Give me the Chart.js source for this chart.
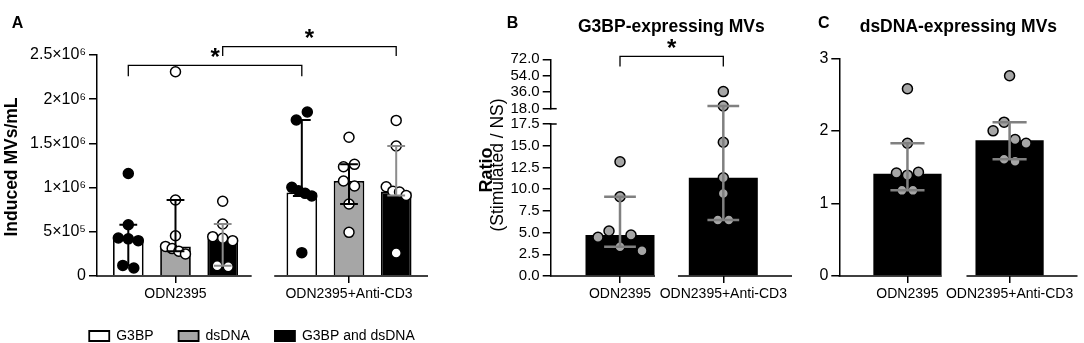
<!DOCTYPE html>
<html>
<head>
<meta charset="utf-8">
<script src="https://cdn.jsdelivr.net/npm/chart.js@4.4.1/dist/chart.umd.min.js"></script>
<style>
  html, body { margin:0; padding:0; background:#ffffff; width:1084px; height:343px; overflow:hidden; }
  body { position:relative; }
  canvas { position:absolute; top:0; }
</style>
</head>
<body>
<canvas id="chartA" style="left:0px;width:504px;height:360px" width="504" height="360"></canvas>
<canvas id="chartB" style="left:460px;width:340px;height:343px" width="340" height="343"></canvas>
<canvas id="chartC" style="left:790px;width:294px;height:343px" width="294" height="343"></canvas>
<script>
// ================= DATA =================
const categories = ['ODN2395', 'ODN2395+Anti-CD3'];
const seriesNamesA = ['G3BP', 'dsDNA', 'G3BP and dsDNA'];

// Panel A: Induced MVs/mL  (bar = median, whiskers = interquartile range)
const medianA_G3BP  = [420000, 945000];
const medianA_dsDNA = [335000, 1075000];
const medianA_both  = [420000, 955000];
const iqrLowA_G3BP   = [120000, 905000];
const iqrHighA_G3BP  = [580000, 1765000];
const iqrLowA_dsDNA  = [280000, 814000];
const iqrHighA_dsDNA = [860000, 1263000];
const iqrLowA_both   = [117000, 910000];
const iqrHighA_both  = [588000, 1470000];
const pointsA_G3BP = [
  [1160000, 580000, 430000, 420000, 400000, 120000, 90000],
  [1765000, 1855000, 1003000, 965000, 935000, 905000, 264000]
];
const pointsA_dsDNA = [
  [2310000, 860000, 455000, 335000, 310000, 280000, 250000],
  [1570000, 1236000, 1263000, 1075000, 1018000, 814000, 494000]
];
const pointsA_both = [
  [845000, 588000, 445000, 426000, 400000, 117000, 105000],
  [1760000, 1470000, 1010000, 960000, 950000, 910000, 260000]
];
const yTicksA = [0, 500000, 1000000, 1500000, 2000000, 2500000];
const yTickLabelsA = ['0', '5×10⁵', '1×10⁶', '1.5×10⁶', '2×10⁶', '2.5×10⁶'];
const axisBreakA = [0.439, 0.569];
const sigA = [
  { from: [0, 0], to: [1, 0], top: 2383000, end: 2260000, label: '*' },
  { from: [0, 2], to: [1, 2], top: 2594000, end: 2489000, label: '*' }
];

// Panel B: G3BP-expressing MVs, ratio (stimulated / NS)
const titleB = 'G3BP-expressing MVs';
const medianB  = [4.72, 11.3];
const iqrLowB  = [3.37, 6.45];
const iqrHighB = [9.13, 21.0];
const pointsB = [
  [13.15, 9.13, 4.45, 5.18, 3.37, 4.72, 2.91],
  [36.7, 21.0, 15.4, 11.3, 9.5, 6.45, 6.45]
];
const yTicksBLow = [0, 2.5, 5, 7.5, 10, 12.5, 15, 17.5];
const yTickLabelsBLow = ['0.0', '2.5', '5.0', '7.5', '10.0', '12.5', '15.0', '17.5'];
const yTicksBHigh = [18, 36, 54, 72];
const yTickLabelsBHigh = ['18.0', '36.0', '54.0', '72.0'];
const axisBreakB = [0.339, 0.561];
const sigB = [{ from: [0, 0], to: [1, 0], top: 75.1, end: 64.1, label: '*' }];

// Panel C: dsDNA-expressing MVs
const titleC = 'dsDNA-expressing MVs';
const medianC  = [1.41, 1.87];
const iqrLowC  = [1.18, 1.61];
const iqrHighC = [1.83, 2.12];
const pointsC = [
  [2.58, 1.83, 1.42, 1.39, 1.43, 1.18, 1.18],
  [2.76, 2.0, 2.12, 1.88, 1.83, 1.61, 1.58]
];
const yTicksC = [0, 1, 2, 3];
const yTickLabelsC = ['0', '1', '2', '3'];
const axisBreakC = [0.336, 0.578];

// ================= RENDERING =================
const FONT = "'Liberation Sans', Arial, Helvetica, sans-serif";
Chart.defaults.font.family = FONT;
Chart.defaults.color = '#000';
Chart.defaults.animation = false;

function xScale(min, max, height) {
  return {
    type: 'linear', min: min, max: max, bounds: 'data', offset: false,
    afterBuildTicks: s => { s.ticks = categories.map((c, i) => ({ value: i })); },
    afterFit: s => { s.height = height; },
    ticks: { autoSkip: false, maxRotation: 0, minRotation: 0, padding: 3, font: { size: 14 }, color: '#000',
             callback: (v, i) => categories[i] },
    grid: { display: true, offset: false, drawOnChartArea: false, drawTicks: true, tickLength: 7, color: '#000', lineWidth: 1.5 },
    border: { display: false }
  };
}
function yScale(o) {
  return Object.assign({
    type: 'linear', position: 'left', bounds: 'data', min: o.min, max: o.max,
    afterBuildTicks: s => { s.ticks = o.tickValues.map(v => ({ value: v })); },
    afterFit: s => { s.width = o.width; },
    ticks: { autoSkip: false, padding: 3, font: { size: o.fontSize }, color: '#000', callback: (v, i) => o.tickLabels[i] },
    grid: { display: true, drawOnChartArea: false, drawTicks: true, tickLength: 8, color: '#000', lineWidth: 1.5 },
    border: { display: true, color: '#000', width: 1.5 }
  }, o.extra || {});
}
function spacerScale(position, width, extra) {
  return Object.assign({
    type: 'linear', position: position, display: true,
    grid: { display: false }, ticks: { display: false }, border: { display: false },
    afterFit: s => { s.width = width; }
  }, extra || {});
}

function dotDataset(values, g, yAxisID, color) {
  return {
    type: 'scatter', label: '', data: values.map(v => ({ x: g, y: v })),
    xAxisID: 'x', yAxisID: yAxisID, order: 1, clip: false, showLine: false,
    pointRadius: 5, pointHoverRadius: 5, pointBorderWidth: 1.5,
    pointBackgroundColor: color, backgroundColor: color, pointBorderColor: '#000', borderColor: '#000'
  };
}

// GraphPad-like scatter spreading: points close in y share a row, spread symmetrically
function jitterOffsets(values, yPix, spacing, maxExtent, gapPx) {
  const order = values.map((v, i) => i).sort((a, b) => yPix(values[b]) - yPix(values[a]));
  const clusters = []; let cur = []; let last = null;
  order.forEach(i => {
    const p = yPix(values[i]);
    if (last !== null && Math.abs(p - last) > gapPx) { clusters.push(cur); cur = []; }
    cur.push(i); last = p;
  });
  if (cur.length) clusters.push(cur);
  const off = values.map(() => 0);
  clusters.forEach(c => {
    c.sort((a, b) => a - b);
    const n = c.length;
    const s = n > 1 ? Math.min(spacing, maxExtent / (n - 1)) : 0;
    c.forEach((i, k) => { off[i] = (k - (n - 1) / 2) * s; });
  });
  return off;
}
function applyJitter(chart, specs, yPix) {
  const xs = chart.scales.x;
  specs.forEach(sp => {
    const bar = chart.getDatasetMeta(sp.barDs).data[sp.g];
    const offs = jitterOffsets(sp.values, v => yPix(chart, v), 11, bar.width * 0.65, 9.8);
    chart.data.datasets[sp.dsIndex].data = sp.idx.map(i => ({ x: xs.getValueForPixel(bar.x + offs[i]), y: sp.values[i] }));
  });
  chart.update('none');
}

function decorPlugin(cfg) {
  return {
    id: 'decor',
    afterDatasetsDraw(chart) {
      const ctx = chart.ctx, ca = chart.chartArea, xs = chart.scales.x;
      const yPix = v => cfg.yPix(chart, v);
      ctx.save();
      ctx.lineCap = 'butt';
      // broken x axis
      ctx.strokeStyle = '#000'; ctx.lineWidth = 1.5;
      const b = [xs.min, cfg.axisBreak[0], cfg.axisBreak[1], xs.max];
      for (let k = 0; k < b.length; k += 2) {
        ctx.beginPath();
        ctx.moveTo(xs.getPixelForValue(b[k]) - (k === 0 ? 0.75 : 0), ca.bottom);
        ctx.lineTo(xs.getPixelForValue(b[k + 1]), ca.bottom);
        ctx.stroke();
      }
      // y-axis break marks
      if (cfg.breakMarks) {
        cfg.breakMarks(chart).forEach(y => {
          ctx.beginPath(); ctx.moveTo(ca.left - 1, y); ctx.lineTo(ca.left + 6, y); ctx.stroke();
        });
      }
      // error bars (interquartile range)
      cfg.errorBars.forEach(e => {
        const bar = chart.getDatasetMeta(e.barDs).data[e.g];
        const x = bar.x, hw = bar.width * e.capFrac / 2;
        const y1 = yPix(e.low), y2 = yPix(e.high);
        ctx.strokeStyle = e.color; ctx.lineWidth = e.lw;
        ctx.beginPath();
        ctx.moveTo(x, y1); ctx.lineTo(x, y2);
        ctx.moveTo(x - hw, y1); ctx.lineTo(x + hw, y1);
        ctx.moveTo(x - hw, y2); ctx.lineTo(x + hw, y2);
        ctx.stroke();
      });
      // significance brackets
      (cfg.sig || []).forEach(s => {
        const b1 = chart.getDatasetMeta(s.from[1]).data[s.from[0]];
        const b2 = chart.getDatasetMeta(s.to[1]).data[s.to[0]];
        const yt = yPix(s.top), ye = yPix(s.end);
        ctx.strokeStyle = '#000'; ctx.lineWidth = 1.3;
        ctx.beginPath();
        ctx.moveTo(b1.x, ye); ctx.lineTo(b1.x, yt); ctx.lineTo(b2.x, yt); ctx.lineTo(b2.x, ye);
        ctx.stroke();
        ctx.fillStyle = '#000'; ctx.font = 'bold 24px ' + FONT;
        ctx.textAlign = 'center'; ctx.textBaseline = 'alphabetic';
        ctx.fillText(s.label, (b1.x + b2.x) / 2, yt - 14 + 13.5);
      });
      ctx.restore();
    },
    afterDraw(chart) {
      const ctx = chart.ctx;
      ctx.save();
      ctx.fillStyle = '#000';
      (cfg.texts || []).forEach(t => {
        ctx.save();
        ctx.font = t.font + ' ' + FONT;
        ctx.textAlign = 'center'; ctx.textBaseline = 'alphabetic';
        ctx.translate(t.x, t.y);
        if (t.rotate) ctx.rotate(-Math.PI / 2);
        ctx.fillText(t.text, 0, 0);
        ctx.restore();
      });
      ctx.restore();
    }
  };
}

// ---------- Panel A ----------
const seriesA = [
  { name: seriesNamesA[0], medians: medianA_G3BP,  low: iqrLowA_G3BP,  high: iqrHighA_G3BP,  points: pointsA_G3BP },
  { name: seriesNamesA[1], medians: medianA_dsDNA, low: iqrLowA_dsDNA, high: iqrHighA_dsDNA, points: pointsA_dsDNA },
  { name: seriesNamesA[2], medians: medianA_both,  low: iqrLowA_both,  high: iqrHighA_both,  points: pointsA_both }
];
const styleA = [
  { fill: '#ffffff', dot: '#000000', err: '#000000' },
  { fill: '#a6a6a6', dot: '#ffffff', err: '#000000' },
  { fill: '#000000', dot: '#ffffff', err: '#8c8c8c' }
];
const datasetsA = [];
seriesA.forEach((s, si) => {
  datasetsA.push({
    type: 'bar', label: s.name, data: categories.map((c, g) => ({ x: g, y: s.medians[g] })),
    backgroundColor: styleA[si].fill, borderColor: '#000', borderWidth: 1.8,
    barPercentage: 0.65, categoryPercentage: 0.816, order: 2, xAxisID: 'x', yAxisID: 'y'
  });
});
const dotSpecsA = [];
const errA = [];
seriesA.forEach((s, si) => categories.forEach((c, g) => {
  dotSpecsA.push({ dsIndex: datasetsA.length, barDs: si, g: g, values: s.points[g], idx: s.points[g].map((v, i) => i) });
  datasetsA.push(dotDataset(s.points[g], g, 'y', styleA[si].dot));
  errA.push({ barDs: si, g: g, low: s.low[g], high: s.high[g], color: styleA[si].err, lw: 2, capFrac: 0.58 });
}));
const yPixA = (chart, v) => chart.scales.y.getPixelForValue(v);

const chartA = new Chart(document.getElementById('chartA'), {
  type: 'bar',
  data: { datasets: datasetsA },
  options: {
    responsive: false, animation: false, events: [],
    layout: { padding: { left: 0, right: 0, top: 55, bottom: 7 } },
    scales: {
      x: xScale(-0.4524, 1.4553, 28),
      y: yScale({ min: 0, max: 2500000, tickValues: yTicksA, tickLabels: yTickLabelsA, fontSize: 16, width: 97 }),
      yRightSpace: spacerScale('right', 76)
    },
    plugins: {
      legend: { display: true, position: 'bottom', align: 'center',
        labels: { boxWidth: 20, boxHeight: 10, padding: 25, color: '#000', font: { size: 14 },
                  filter: item => item.datasetIndex < seriesA.length } },
      title: { display: false },
      tooltip: { enabled: false }
    }
  },
  plugins: [decorPlugin({
    yPix: yPixA, axisBreak: axisBreakA, errorBars: errA, sig: sigA,
    texts: [
      { text: 'A', x: 17.5, y: 28.3, font: 'bold 16px' },
      { text: 'Induced MVs/mL', x: 16.7, y: 167, font: 'bold 17.5px', rotate: true }
    ]
  })]
});
applyJitter(chartA, dotSpecsA, yPixA);

// ---------- Panel B ----------
const datasetsB = [{
  type: 'bar', label: titleB, data: categories.map((c, g) => ({ x: g, y: medianB[g] })),
  backgroundColor: '#000', borderColor: '#000', borderWidth: 0,
  barPercentage: 0.668, categoryPercentage: 1, order: 2, xAxisID: 'x', yAxisID: 'yLow'
}];
const dotSpecsB = [];
const lowTopB = yTicksBLow[yTicksBLow.length - 1];
const highBottomB = yTicksBHigh[0];
pointsB.forEach((vals, g) => {
  const all = vals.map((v, i) => i);
  const parts = [[all.filter(i => vals[i] <= lowTopB), 'yLow'], [all.filter(i => vals[i] >= highBottomB), 'yHigh']];
  parts.forEach(([idx, ax]) => {
    if (!idx.length) return;
    dotSpecsB.push({ dsIndex: datasetsB.length, barDs: 0, g: g, values: vals, idx: idx });
    datasetsB.push(dotDataset(idx.map(i => vals[i]), g, ax, '#a6a6a6'));
  });
});
const errB = categories.map((c, g) => ({ barDs: 0, g: g, low: iqrLowB[g], high: iqrHighB[g], color: '#808080', lw: 2.5, capFrac: 0.46 }));
const yPixB = (chart, v) => v > (lowTopB + highBottomB) / 2 ? chart.scales.yHigh.getPixelForValue(v) : chart.scales.yLow.getPixelForValue(v);

const chartB = new Chart(document.getElementById('chartB'), {
  type: 'bar',
  data: { datasets: datasetsB },
  options: {
    responsive: false, animation: false, events: [],
    layout: { padding: { left: 0, right: 8, top: 0, bottom: 37 } },
    scales: {
      x: xScale(-0.6709, 1.665, 30),
      yLow: yScale({ min: 0, max: lowTopB, tickValues: yTicksBLow, tickLabels: yTickLabelsBLow, fontSize: 15, width: 90.7,
                     extra: { stack: 'b', stackWeight: 152 } }),
      yGap: spacerScale('left', 90.7, { stack: 'b', stackWeight: 15.3 }),
      yHigh: yScale({ min: highBottomB, max: yTicksBHigh[yTicksBHigh.length - 1], tickValues: yTicksBHigh, tickLabels: yTickLabelsBHigh,
                      fontSize: 15, width: 90.7, extra: { stack: 'b', stackWeight: 49.4 } })
    },
    plugins: {
      legend: { display: false },
      title: { display: true, text: titleB, fullSize: false, color: '#000', font: { size: 17.5, weight: 'bold' },
               padding: { top: 16.2, bottom: 22.1 } },
      tooltip: { enabled: false }
    }
  },
  plugins: [decorPlugin({
    yPix: yPixB, axisBreak: axisBreakB, errorBars: errB, sig: sigB,
    breakMarks: chart => [chart.scales.yHigh.getPixelForValue(highBottomB), chart.scales.yLow.getPixelForValue(lowTopB)],
    texts: [
      { text: 'B', x: 52.5, y: 27.7, font: 'bold 16px' },
      { text: 'Ratio', x: 31.7, y: 170, font: 'bold 18px', rotate: true },
      { text: '(Stimulated / NS)', x: 43, y: 165, font: '17.5px', rotate: true }
    ]
  })]
});
applyJitter(chartB, dotSpecsB, yPixB);

// ---------- Panel C ----------
const datasetsC = [{
  type: 'bar', label: titleC, data: categories.map((c, g) => ({ x: g, y: medianC[g] })),
  backgroundColor: '#000', borderColor: '#000', borderWidth: 0,
  barPercentage: 0.668, categoryPercentage: 1, order: 2, xAxisID: 'x', yAxisID: 'y'
}];
const dotSpecsC = [];
pointsC.forEach((vals, g) => {
  dotSpecsC.push({ dsIndex: datasetsC.length, barDs: 0, g: g, values: vals, idx: vals.map((v, i) => i) });
  datasetsC.push(dotDataset(vals, g, 'y', '#a6a6a6'));
});
const errC = categories.map((c, g) => ({ barDs: 0, g: g, low: iqrLowC[g], high: iqrHighC[g], color: '#808080', lw: 2.5, capFrac: 0.5 }));
const yPixC = (chart, v) => chart.scales.y.getPixelForValue(v);

const chartC = new Chart(document.getElementById('chartC'), {
  type: 'bar',
  data: { datasets: datasetsC },
  options: {
    responsive: false, animation: false, events: [],
    layout: { padding: { left: 0, right: 3.5, top: 0, bottom: 37 } },
    scales: {
      x: xScale(-0.6673, 1.665, 30),
      y: yScale({ min: 0, max: 3, tickValues: yTicksC, tickLabels: yTickLabelsC, fontSize: 16, width: 49.3 })
    },
    plugins: {
      legend: { display: false },
      title: { display: true, text: titleC, fullSize: false, color: '#000', font: { size: 17.5, weight: 'bold' },
               padding: { top: 16.2, bottom: 21.1 } },
      tooltip: { enabled: false }
    }
  },
  plugins: [decorPlugin({
    yPix: yPixC, axisBreak: axisBreakC, errorBars: errC,
    texts: [ { text: 'C', x: 33.8, y: 27.7, font: 'bold 16px' } ]
  })]
});
applyJitter(chartC, dotSpecsC, yPixC);
</script>
</body>
</html>
